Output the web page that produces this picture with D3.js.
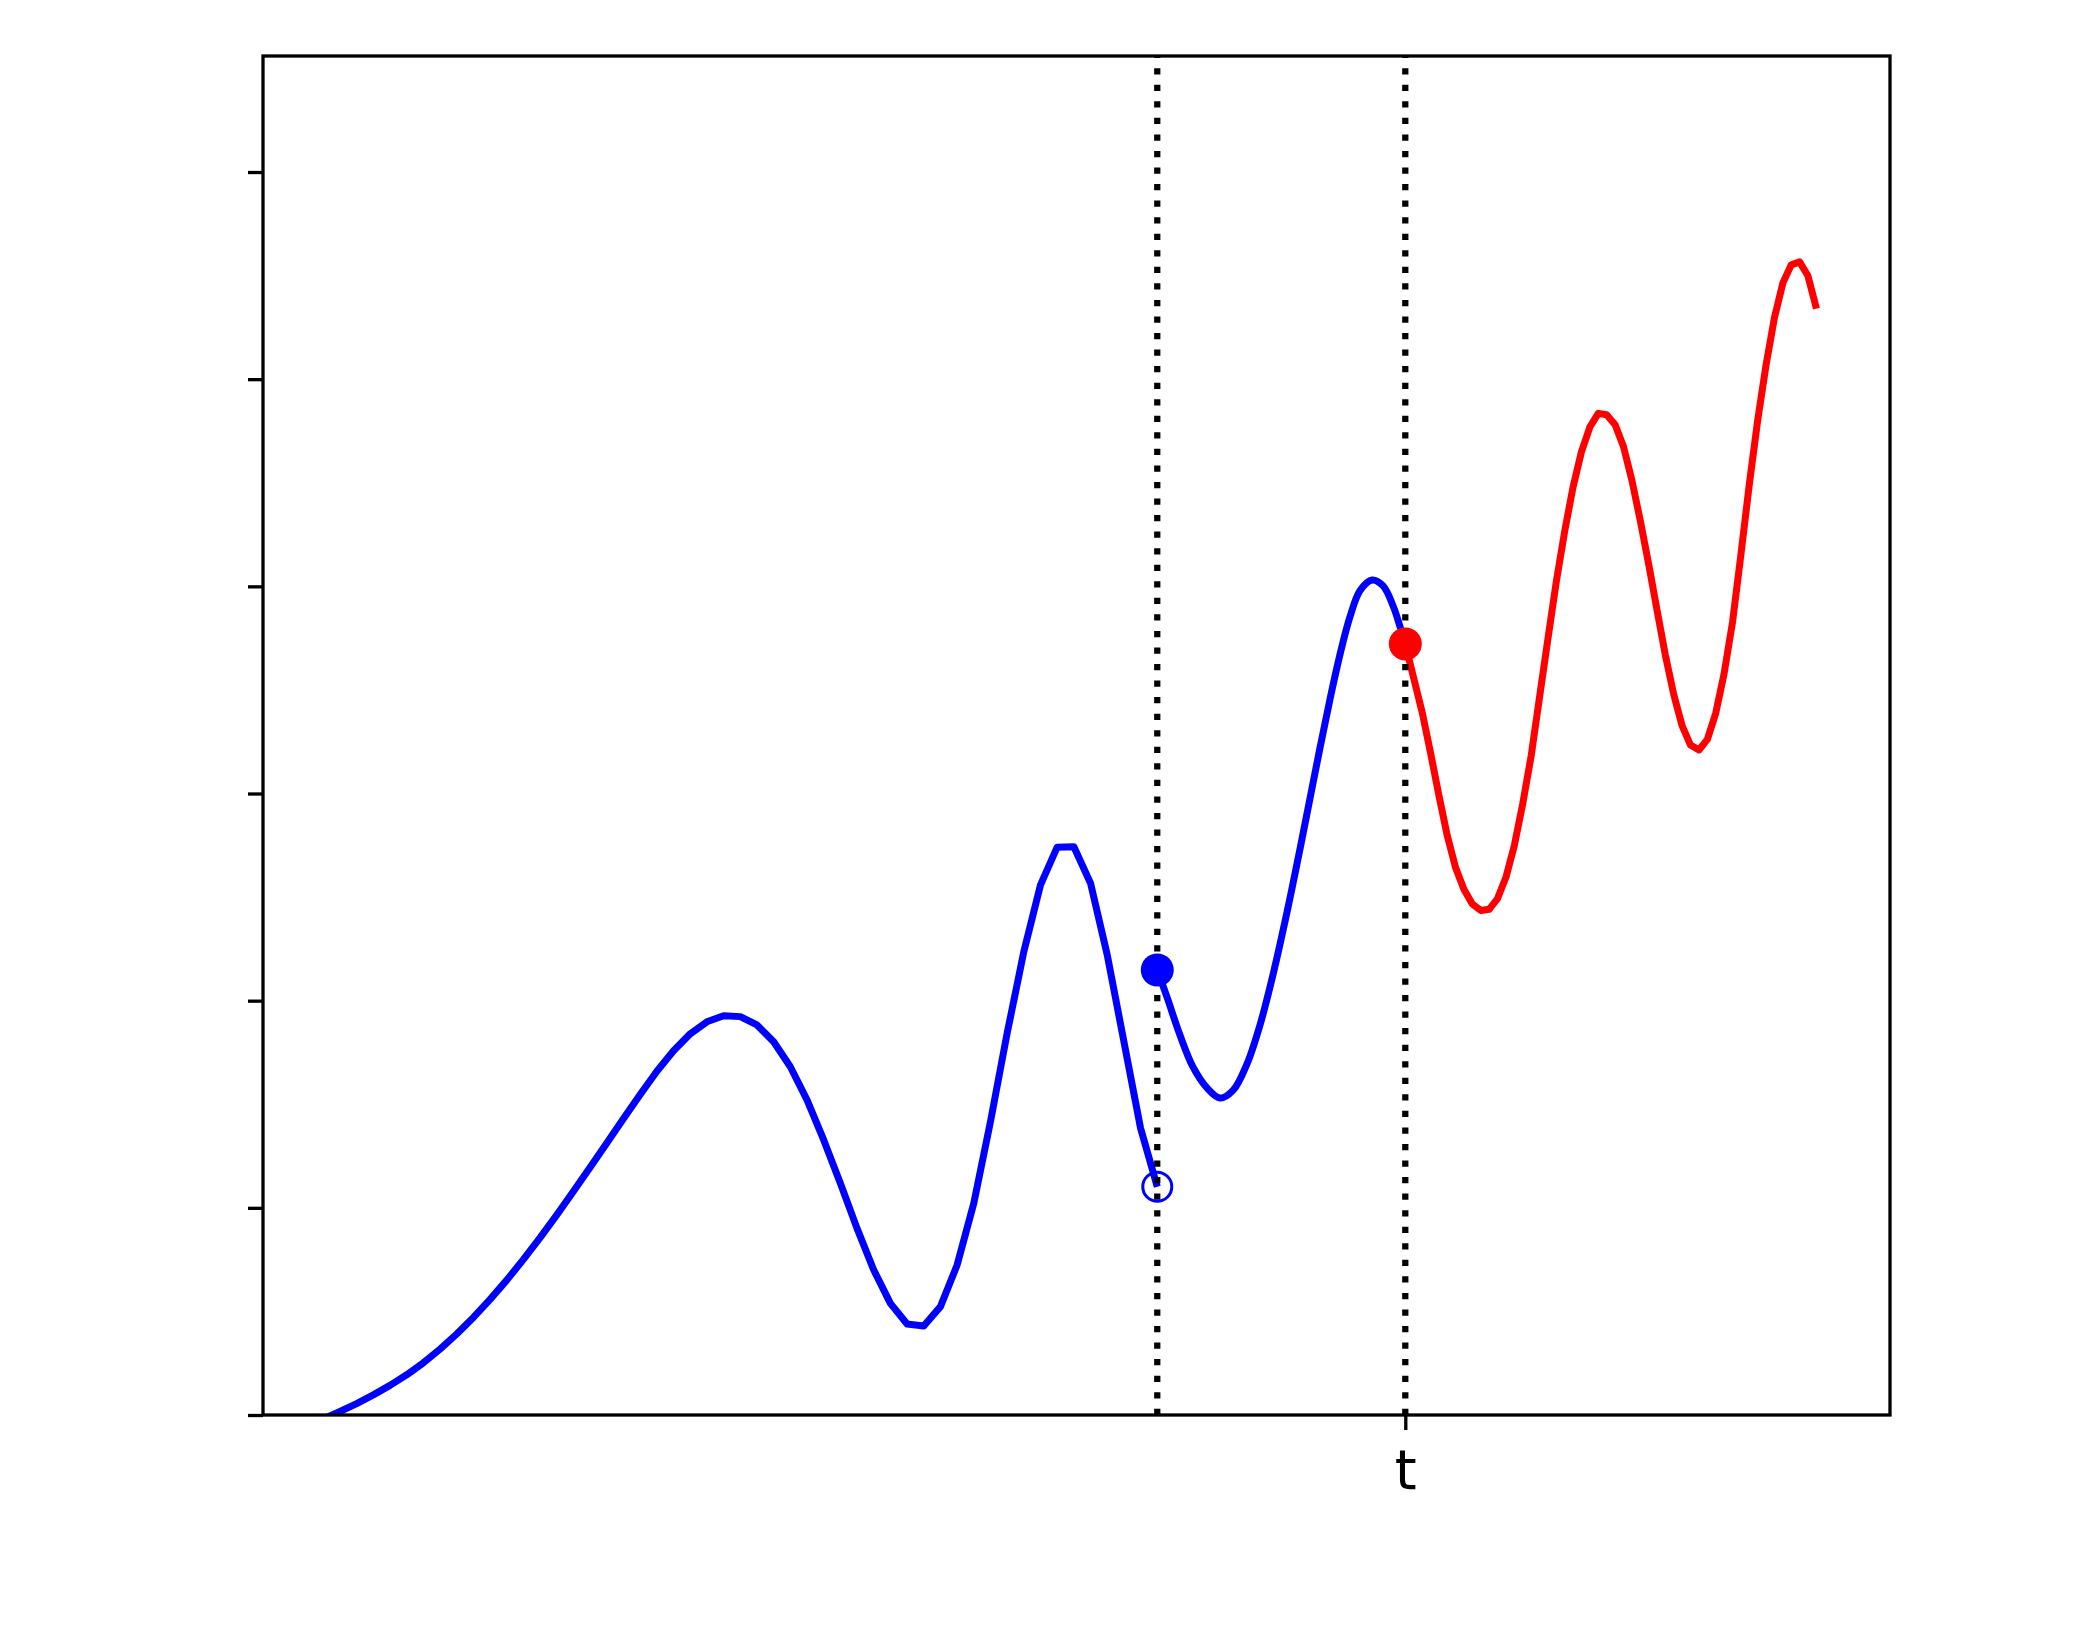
<!DOCTYPE html>
<html>
<head>
<meta charset="utf-8">
<script src="https://cdn.jsdelivr.net/npm/d3@7"></script>
<style>
  html, body { margin: 0; padding: 0; background: #ffffff; }
  svg { display: block; }
</style>
</head>
<body>
<svg id="chart" width="2100" height="1640"></svg>
<script>
// ---------------- data ----------------
// left blue piece (sampled polyline, ends at s with an open circle)
const blueLeftX = [0.0, 0.1, 0.2, 0.3, 0.4, 0.5, 0.6, 0.7, 0.8, 0.9,
  1.0, 1.1, 1.2, 1.3, 1.4, 1.5, 1.6, 1.7, 1.8, 1.9,
  2.0, 2.1, 2.2, 2.3, 2.4, 2.5, 2.6, 2.7, 2.8, 2.9,
  3.0, 3.1, 3.2, 3.3, 3.4, 3.5, 3.6, 3.7, 3.8, 3.9,
  4.0, 4.1, 4.2, 4.3, 4.4, 4.5, 4.6, 4.7, 4.8, 4.9, 5.0];
const blueLeftY = [-0.019, 0.017, 0.055, 0.097, 0.143, 0.194, 0.252, 0.318, 0.391, 0.471,
  0.558, 0.651, 0.751, 0.856, 0.966, 1.080, 1.196, 1.313, 1.431, 1.547,
  1.659, 1.758, 1.840, 1.898, 1.927, 1.923, 1.883, 1.802, 1.681, 1.521,
  1.328, 1.119, 0.901, 0.700, 0.539, 0.439, 0.430, 0.523, 0.724, 1.022,
  1.416, 1.843, 2.237, 2.559, 2.741, 2.743, 2.567, 2.221, 1.802, 1.384, 1.102];

// middle blue piece (smooth, from s to t)
const blueMidX = [5.0, 5.058, 5.136, 5.214, 5.298, 5.376, 5.454, 5.538, 5.616, 5.694,
  5.778, 5.856, 5.916, 5.976, 6.036, 6.096, 6.156, 6.216, 6.288, 6.354, 6.414, 6.456, 6.487];
const blueMidY = [2.148, 2.018, 1.834, 1.680, 1.579, 1.530, 1.567, 1.695, 1.883, 2.126,
  2.428, 2.733, 2.978, 3.222, 3.457, 3.673, 3.855, 3.980, 4.031, 4.002, 3.905, 3.804, 3.722];

// red piece (sampled polyline, starts at t)
const redX = [6.487, 6.537, 6.588, 6.638, 6.688, 6.739, 6.789, 6.839, 6.889, 6.940,
  6.990, 7.040, 7.091, 7.141, 7.191, 7.242, 7.292, 7.342, 7.392, 7.443,
  7.493, 7.543, 7.594, 7.644, 7.694, 7.745, 7.795, 7.845, 7.895, 7.946,
  7.996, 8.046, 8.097, 8.147, 8.197, 8.248, 8.298, 8.348, 8.398, 8.449,
  8.499, 8.549, 8.600, 8.650, 8.700, 8.751, 8.801, 8.851, 8.901, 8.952];
const redY = [3.722, 3.558, 3.393, 3.198, 2.993, 2.795, 2.641, 2.537, 2.467, 2.435,
  2.441, 2.493, 2.597, 2.750, 2.950, 3.183, 3.466, 3.746, 4.021, 4.267,
  4.480, 4.649, 4.770, 4.835, 4.828, 4.780, 4.675, 4.514, 4.321, 4.108,
  3.886, 3.669, 3.476, 3.326, 3.234, 3.210, 3.261, 3.387, 3.577, 3.828,
  4.152, 4.489, 4.803, 5.069, 5.296, 5.465, 5.552, 5.566, 5.499, 5.340];

// markers and guides
const sValue = 5.0;
const tValue = 6.487;
const openMarker = [5.0, 1.102];
const blueDot = [5.0, 2.148];
const redDot = [6.487, 3.722];
const vlinesX = [sValue, tValue];
const xTickValues = [tValue];
const xTickLabels = ["t"];
const yTickValues = [0, 1, 2, 3, 4, 5, 6];
const xDomain = [-0.3615, 9.393];
const yDomain = [0, 6.56];

// ---------------- layout ----------------
const W = 2100, H = 1640;
const L = 263, R = 1890, T = 56, B = 1415;

const svg = d3.select("#chart");
svg.append("rect").attr("width", W).attr("height", H).attr("fill", "#ffffff");

const x = d3.scaleLinear().domain(xDomain).range([L, R]);
const y = d3.scaleLinear().domain(yDomain).range([B, T]);

svg.append("defs").append("clipPath").attr("id", "plotclip")
  .append("rect").attr("x", L).attr("y", T).attr("width", R - L).attr("height", B - T);

const plot = svg.append("g").attr("clip-path", "url(#plotclip)");

const zip = (xs, ys) => xs.map((v, i) => [v, ys[i]]);
const lineLin = d3.line().x(d => x(d[0])).y(d => y(d[1])).curve(d3.curveLinear);
const lineSmooth = d3.line().x(d => x(d[0])).y(d => y(d[1])).curve(d3.curveCatmullRom.alpha(0.5));

const LW = 7;
plot.append("path").datum(zip(blueLeftX, blueLeftY))
  .attr("d", lineLin).attr("fill", "none").attr("stroke", "#0000ff")
  .attr("stroke-width", LW).attr("stroke-linejoin", "round").attr("stroke-linecap", "butt");

plot.append("path").datum(zip(blueMidX, blueMidY))
  .attr("d", lineSmooth).attr("fill", "none").attr("stroke", "#0000ff")
  .attr("stroke-width", LW).attr("stroke-linejoin", "round").attr("stroke-linecap", "butt");

plot.append("path").datum(zip(redX, redY))
  .attr("d", lineLin).attr("fill", "none").attr("stroke", "#ff0000")
  .attr("stroke-width", LW).attr("stroke-linejoin", "round").attr("stroke-linecap", "butt");

// dotted verticals
plot.selectAll("line.vl").data(vlinesX).enter().append("line")
  .attr("class", "vl")
  .attr("x1", d => x(d)).attr("x2", d => x(d))
  .attr("y1", B).attr("y2", T)
  .attr("stroke", "#000000").attr("stroke-width", 6.25)
  .attr("stroke-dasharray", "6.25,10.3");

// markers
plot.append("circle").attr("cx", x(openMarker[0])).attr("cy", y(openMarker[1]))
  .attr("r", 14.5).attr("fill", "none").attr("stroke", "#0000ff").attr("stroke-width", 3);
plot.append("circle").attr("cx", x(blueDot[0])).attr("cy", y(blueDot[1]))
  .attr("r", 16.5).attr("fill", "#0000ff");
plot.append("circle").attr("cx", x(redDot[0])).attr("cy", y(redDot[1]))
  .attr("r", 16.5).attr("fill", "#ff0000");

// axes
const yAxis = d3.axisLeft(y).tickValues(yTickValues).tickSize(15).tickFormat("");
const gy = svg.append("g").attr("transform", `translate(${L},0)`).call(yAxis);
gy.select(".domain").remove();
gy.selectAll(".tick line").attr("stroke", "#000").attr("stroke-width", 3.3);

const xAxis = d3.axisBottom(x).tickValues(xTickValues).tickSize(15)
  .tickFormat((d, i) => xTickLabels[i]);
const gx = svg.append("g").attr("transform", `translate(0,${B})`).call(xAxis);
gx.select(".domain").remove();
gx.selectAll(".tick line").attr("stroke", "#000").attr("stroke-width", 3.3);
gx.selectAll(".tick text")
  .attr("y", 74).attr("dy", null)
  .attr("fill", "#000")
  .style("font-family", "'DejaVu Sans', sans-serif")
  .style("font-size", "56px");

// spines
svg.append("rect").attr("x", L).attr("y", T).attr("width", R - L).attr("height", B - T)
  .attr("fill", "none").attr("stroke", "#000").attr("stroke-width", 3.3);
</script>
</body>
</html>
